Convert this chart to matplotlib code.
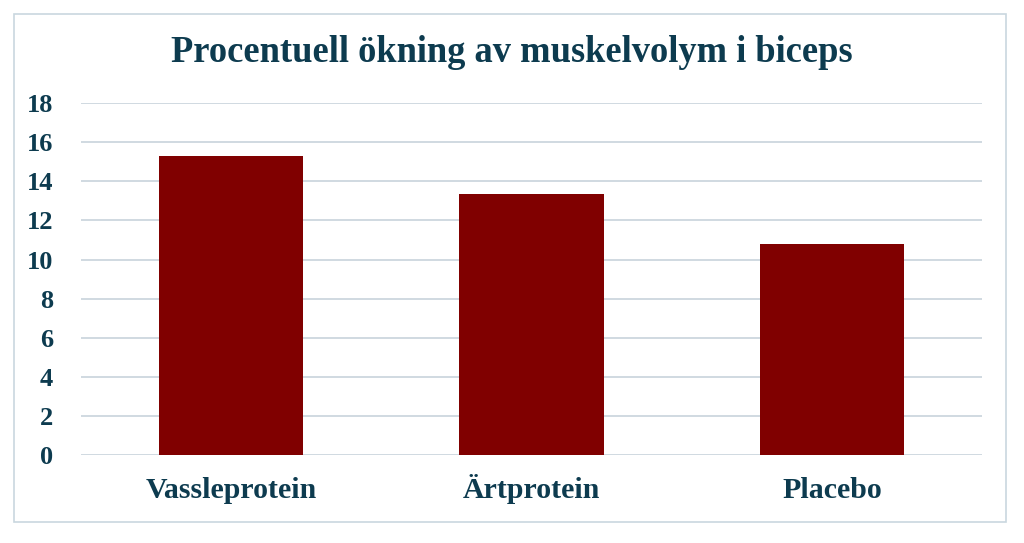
import matplotlib.pyplot as plt
from matplotlib.patches import Rectangle

categories = ['Vassleprotein', 'Ärtprotein', 'Placebo']
values = [15.3, 13.35, 10.8]
yticks = [0, 2, 4, 6, 8, 10, 12, 14, 16, 18]

txt = '#0d3b4f'
plt.rcParams['font.family'] = ['Liberation Serif', 'DejaVu Serif']

fig = plt.figure(figsize=(10.24, 5.43), dpi=100)
fig.patches.append(Rectangle((14 / 1024, 21 / 543), 992 / 1024, 508 / 543,
                             transform=fig.transFigure, fill=False,
                             edgecolor='#c9d7df', linewidth=1.2))

ax = fig.add_axes([0.079, 0.162, 0.880, 0.648])
ax.bar(range(len(categories)), values, width=0.48, color='#800000', zorder=3)

ax.set_xlim(-0.5, 2.5)
ax.set_ylim(0, 18)
ax.set_yticks(yticks)
ax.set_xticks(range(len(categories)))
ax.set_xticklabels(categories)
ax.grid(axis='y', color='#c8d3db', linewidth=1.2, zorder=0)
for s in ax.spines.values():
    s.set_visible(False)
ax.tick_params(length=0, labelcolor=txt)
ax.tick_params(axis='y', pad=20, labelsize=19)
ax.tick_params(axis='x', pad=31, labelsize=21.5)
for lab in ax.get_xticklabels():
    lab.set_fontweight('bold')
    lab.set_verticalalignment('baseline')
for lab in ax.get_yticklabels():
    lab.set_fontweight('bold')

fig.text(0.5, 1 - 62 / 543, 'Procentuell ökning av muskelvolym i biceps',
         ha='center', va='baseline', fontsize=26.3,
         fontweight='bold', color=txt)

fig.savefig('out.png', dpi=100)
